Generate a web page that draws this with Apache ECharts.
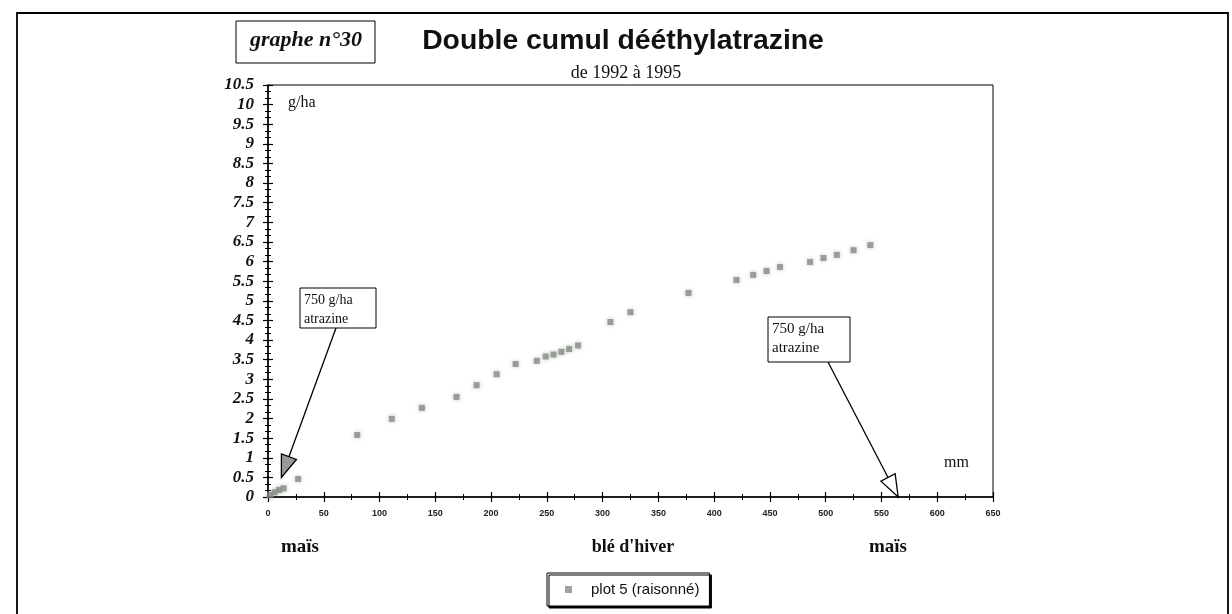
<!DOCTYPE html>
<html>
<head>
<meta charset="utf-8">
<script src="https://cdn.jsdelivr.net/npm/echarts@6/dist/echarts.min.js"></script>
<style>
html,body{margin:0;padding:0;background:#fff;}
#chart{width:1232px;height:614px;}
</style>
</head>
<body>
<div id="chart"></div>
<script>
// ---- data ----
const cumulPluie = [2, 6, 10, 14, 27, 80, 111, 138, 169, 187, 205, 222, 241, 249, 256, 263, 270, 278, 307, 325, 377, 420, 435, 447, 459, 486, 498, 510, 525, 540];
const cumulDEA   = [0.05, 0.12, 0.18, 0.22, 0.46, 1.58, 1.99, 2.27, 2.55, 2.85, 3.13, 3.39, 3.47, 3.58, 3.63, 3.70, 3.77, 3.86, 4.46, 4.71, 5.20, 5.53, 5.66, 5.76, 5.86, 5.99, 6.09, 6.17, 6.29, 6.42];
const seriesName = 'plot 5 (raisonné)';
const titleText = 'Double cumul dééthylatrazine';
const subtitleText = 'de 1992 à 1995';
const graphLabel = 'graphe n°30';
const cropLabels = ['maïs', 'blé d\'hiver', 'maïs'];
const applicationText = '750 g/ha\natrazine';
const arrowTips = [[12, 0.5], [565, 0]];   // data coordinates pointed by the arrows
const xTicks = { min: 0, max: 650, interval: 50 };
const yTicks = { min: 0, max: 10.5, interval: 0.5 };

const chart = echarts.init(document.getElementById('chart'));
const serif = '"Liberation Serif", "DejaVu Serif", serif';
const sans = '"Liberation Sans", Arial, sans-serif';

const points = cumulPluie.map((x, i) => [x, cumulDEA[i]]);

const gridL = 268, gridR = 239, gridT = 85, gridB = 117;

chart.setOption({
  animation: false,
  backgroundColor: '#fff',
  legend: {
    left: 547, top: 573,
    padding: [9, 10, 9, 18],
    itemWidth: 7, itemHeight: 7, itemGap: 5,
    borderColor: '#000', borderWidth: 1,
    backgroundColor: '#fff',
    shadowColor: '#000', shadowOffsetX: 2, shadowOffsetY: 2, shadowBlur: 0,
    textStyle: { fontFamily: sans, fontSize: 15, color: '#111', padding: [0, 0, 0, 14] },
    data: [{ name: seriesName, icon: 'rect' }]
  },
  grid: { left: gridL, right: gridR, top: gridT, bottom: gridB, show: true, borderColor: '#000', borderWidth: 1, backgroundColor: 'transparent' },
  xAxis: [
    {
      type: 'value', min: xTicks.min, max: xTicks.max, interval: xTicks.interval,
      axisLine: { lineStyle: { color: '#000', width: 1.5 } },
      axisTick: { show: true, length: 5, lineStyle: { color: '#000', width: 1.2 } },
      minorTick: { show: true, splitNumber: 2, length: 3, lineStyle: { color: '#000', width: 1 } },
      splitLine: { show: false },
      axisLabel: { fontFamily: sans, fontWeight: 'bold', fontSize: 9, color: '#222', margin: 12 }
    },
    {
      type: 'value', min: xTicks.min, max: xTicks.max, interval: xTicks.interval, position: 'bottom',
      axisLine: { show: false },
      axisTick: { show: true, inside: true, length: 5, lineStyle: { color: '#000', width: 1.2 } },
      minorTick: { show: true, splitNumber: 2, length: 3, lineStyle: { color: '#000', width: 1 } },
      splitLine: { show: false },
      axisLabel: { show: false }
    }
  ],
  yAxis: [
    {
      type: 'value', min: yTicks.min, max: yTicks.max, interval: yTicks.interval,
      axisLine: { show: true, lineStyle: { color: '#000', width: 1.5 } },
      axisTick: { show: true, length: 5, lineStyle: { color: '#000', width: 1.2 } },
      minorTick: { show: true, splitNumber: 3, length: 3, lineStyle: { color: '#000', width: 1 } },
      splitLine: { show: false },
      axisLabel: { fontFamily: serif, fontStyle: 'italic', fontWeight: 'bold', fontSize: 17, color: '#111', margin: 14 }
    },
    {
      type: 'value', min: yTicks.min, max: yTicks.max, interval: yTicks.interval, position: 'left',
      axisLine: { show: false },
      axisTick: { show: true, inside: true, length: 5, lineStyle: { color: '#000', width: 1.2 } },
      minorTick: { show: true, splitNumber: 3, length: 3, lineStyle: { color: '#000', width: 1 } },
      splitLine: { show: false },
      axisLabel: { show: false }
    }
  ],
  series: [{
    name: seriesName,
    type: 'scatter',
    symbol: 'rect',
    symbolSize: 6,
    itemStyle: { color: '#8a8a8a', shadowBlur: 4, shadowColor: 'rgba(110,150,110,0.6)' },
    data: points
  }]
});

function arrow(start, tip, fill) {
  const dx = tip[0] - start[0], dy = tip[1] - start[1];
  const len = Math.sqrt(dx * dx + dy * dy);
  const ux = dx / len, uy = dy / len;
  const hl = 22, hw = 8;
  const bx = tip[0] - ux * hl, by = tip[1] - uy * hl;
  const nx = -uy, ny = ux;
  return [
    { type: 'line', shape: { x1: start[0], y1: start[1], x2: bx, y2: by }, style: { stroke: '#000', lineWidth: 1.3 }, z: 100 },
    { type: 'polygon', shape: { points: [[tip[0], tip[1]], [bx + nx * hw, by + ny * hw], [bx - nx * hw, by - ny * hw]] },
      style: { fill: fill, stroke: '#000', lineWidth: 1.3 }, z: 100 }
  ];
}

function box(x, y, w, h, text, font) {
  return [
    { type: 'rect', shape: { x: x, y: y, width: w, height: h }, style: { fill: '#fff', stroke: '#000', lineWidth: 1 }, z: 99 },
    { type: 'text', x: x + 4, y: y + 3, style: { text: text, font: font, fill: '#111', lineHeight: 19 }, z: 101 }
  ];
}

const tipL = chart.convertToPixel({ gridIndex: 0 }, arrowTips[0]);
const tipR = chart.convertToPixel({ gridIndex: 0 }, arrowTips[1]);

const g = [];
// outer frame
g.push({ type: 'rect', shape: { x: 17, y: 13, width: 1211, height: 640 }, style: { fill: 'none', stroke: '#000', lineWidth: 1.8 }, z: 1 });
// title + subtitle
g.push({ type: 'text', x: 623, y: 42, scaleX: 1.05, style: { text: titleText, font: 'bold 27px ' + sans, fill: '#111', align: 'center', verticalAlign: 'middle' }, z: 11 });
g.push({ type: 'text', x: 626, y: 73, style: { text: subtitleText, font: '18px ' + serif, fill: '#111', align: 'center', verticalAlign: 'middle' }, z: 11 });
// graph number box
g.push({ type: 'rect', shape: { x: 236, y: 21, width: 139, height: 42 }, style: { fill: '#fff', stroke: '#000', lineWidth: 1 }, z: 10 });
g.push({ type: 'text', x: 306, y: 41, scaleX: 1.1, style: { text: graphLabel, font: 'italic bold 20px ' + serif, fill: '#111', align: 'center', verticalAlign: 'middle' }, z: 11 });
// units
g.push({ type: 'text', x: 288, y: 95, style: { text: 'g/ha', font: '16px ' + serif, fill: '#111' }, z: 11 });
g.push({ type: 'text', x: 944, y: 455, style: { text: 'mm', font: '16px ' + serif, fill: '#111' }, z: 11 });
// crops
g.push({ type: 'text', x: 300, y: 547, style: { text: cropLabels[0], font: 'bold 19px ' + serif, fill: '#111', align: 'center', verticalAlign: 'middle' }, z: 11 });
g.push({ type: 'text', x: 633, y: 547, style: { text: cropLabels[1], font: 'bold 18px ' + serif, fill: '#111', align: 'center', verticalAlign: 'middle' }, z: 11 });
g.push({ type: 'text', x: 888, y: 547, style: { text: cropLabels[2], font: 'bold 19px ' + serif, fill: '#111', align: 'center', verticalAlign: 'middle' }, z: 11 });
// annotation boxes and arrows
box(300, 288, 76, 40, applicationText, '14px ' + serif).forEach(e => g.push(e));
box(768, 317, 82, 45, applicationText, '15px ' + serif).forEach(e => g.push(e));
arrow([336, 328], tipL, '#9a9a9a').forEach(e => g.push(e));
arrow([828, 362], tipR, '#fff').forEach(e => g.push(e));

chart.setOption({ graphic: g });
</script>
</body>
</html>
